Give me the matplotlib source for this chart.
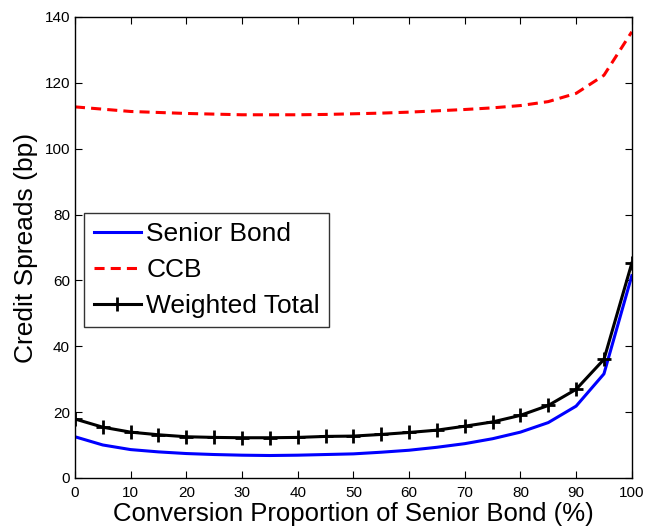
import numpy as np
import matplotlib.pyplot as plt

plt.rcParams['font.family'] = ['Liberation Sans', 'DejaVu Sans']

# conversion proportion (%)
proportion = np.arange(0, 101, 5)

senior_bond = [12.5, 10.0, 8.6, 7.9, 7.4, 7.1, 6.9, 6.8, 6.9, 7.1, 7.3,
               7.8, 8.4, 9.3, 10.4, 11.9, 13.9, 16.8, 21.8, 31.6, 61.4]
ccb = [112.7, 112.0, 111.3, 111.0, 110.7, 110.5, 110.3, 110.3, 110.3, 110.4, 110.6,
       110.8, 111.1, 111.5, 111.9, 112.4, 113.1, 114.3, 116.8, 122.3, 135.5]
weighted_total = [17.9, 15.4, 13.9, 13.1, 12.5, 12.3, 12.2, 12.2, 12.3, 12.6, 12.7,
                  13.2, 13.8, 14.5, 15.7, 17.0, 19.0, 22.0, 26.9, 36.0, 65.2]

fig = plt.figure(figsize=(6.46, 5.31), dpi=100)
ax = fig.add_axes([0.116, 0.1, 0.862, 0.868])

ax.plot(proportion, senior_bond, color='#0000ff', lw=2.2, label='Senior Bond')
ax.plot(proportion, ccb, color='#ff0000', lw=2.2, ls=(0, (3.3, 2)), label='CCB')
ax.plot(proportion, weighted_total, color='black', lw=2.2, marker='+', ms=10,
        mew=2, label='Weighted Total')

ax.set_xlim(0, 100)
ax.set_ylim(0, 140)
ax.set_xticks(range(0, 101, 10))
ax.set_yticks(range(0, 141, 20))
ax.tick_params(direction='in', top=True, right=True, labelsize=11, length=5)
ax.tick_params(axis='x', pad=6)
for s in ax.spines.values():
    s.set_linewidth(1)

ax.set_xlabel('Conversion Proportion of Senior Bond (%)', fontsize=18.5, labelpad=1)
ax.set_ylabel('Credit Spreads (bp)', fontsize=19, labelpad=5)

leg = ax.legend(loc='upper left', bbox_to_anchor=(0.017, 0.575), fontsize=19,
                frameon=True, fancybox=False, edgecolor='black', handlelength=1.8,
                borderpad=0.35, borderaxespad=0, labelspacing=0.45, handletextpad=0.2)
leg.get_frame().set_linewidth(1)

fig.savefig('out.png', dpi=100)
